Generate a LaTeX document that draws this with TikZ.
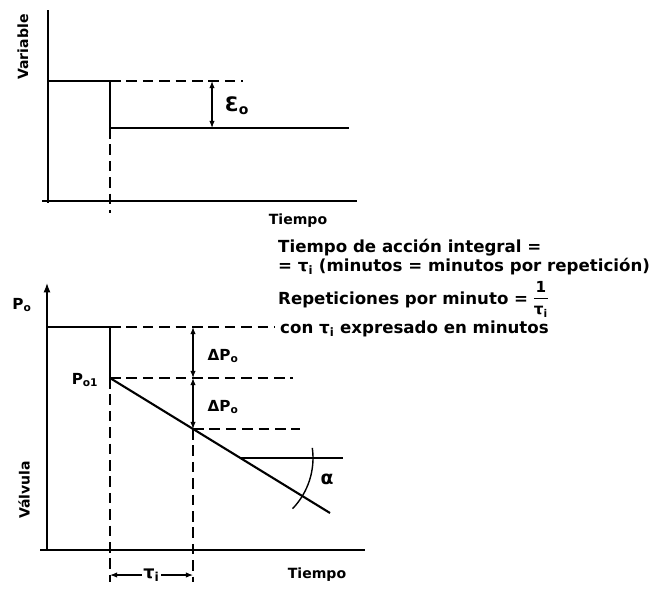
\documentclass[tikz,border=0pt]{standalone}
\usepackage{amsmath}
\usepackage{fontspec}
\setmainfont{DejaVu Sans}
\usetikzlibrary{arrows.meta}
\tikzset{axis/.style = {line width = 1.2pt}}
\tikzset{signal/.style = {line width = 2.4pt}}
\tikzset{guide/.style = {line width = 1pt, dash pattern = on 9pt off 5pt}}
\tikzset{dim/.style = {line width = 0.9pt, {Latex[length=6pt]}-{Latex[length=6pt]}}}
\tikzset{lbl/.style = {inner sep = 1pt, font = \fontsize{12}{14}\selectfont\bfseries}}
\tikzset{txt/.style = {inner sep = 0pt, anchor = base west, font = \fontsize{14.2}{17}\selectfont\bfseries}}
\newcommand{\onetau}{\begin{tabular}{@{}c@{}}\fontsize{13}{13}\selectfont 1\\[-1pt]\hline\noalign{\vskip 2pt}\fontsize{13}{13}\selectfont τ\textsubscript{i}\end{tabular}}

\begin{document}
\begin{tikzpicture}[x = 0.03cm, y = -0.03cm]
				\useasboundingbox (0, 0) rectangle (657, 588);

				% upper graph
				\coordinate (ya) at (48, 10);
				\coordinate (yb) at (48, 203);
				\coordinate (xa) at (42, 201);
				\coordinate (xb) at (357, 201);
				\coordinate (s0) at (48, 81);
				\coordinate (s1) at (110, 81);
				\coordinate (s2) at (110, 128);
				\coordinate (s3) at (349, 128);
				\coordinate (d1) at (243, 81);
				\coordinate (d2) at (110, 213);
				\coordinate (e1) at (212, 81);
				\coordinate (e2) at (212, 128);

				\draw[axis] (ya) -- (yb);
				\draw[axis] (xa) -- (xb);
				\draw[signal] (s0) -- (s1) -- (s2) -- (s3);
				\draw[guide] (s1) -- (d1);
				\draw[guide] (s2) -- (d2);
				\draw[dim] (e1) -- (e2);

				\node[lbl, rotate = 90] (var) at (23, 47) {Variable};
				\node[lbl, font = \fontsize{17}{20}\selectfont\bfseries] (eps) at (237, 106) {Ɛ\textsubscript{o}};
				\node[lbl] (t1) at (298, 221) {Tiempo};

				% text
				\node[txt] (txa) at (278, 252) {Tiempo de acción integral =};
				\node[txt] (txb) at (278, 271) {= τ\textsubscript{i} (minutos = minutos por repetición)};
				\node[txt] (txc) at (278, 304) {Repeticiones por minuto = \onetau};
				\node[txt] (con) at (280, 333) {con τ\textsubscript{i} expresado en minutos};

				% lower graph
				\coordinate (ua) at (47, 550);
				\coordinate (ub) at (47, 283);
				\coordinate (va) at (40, 550);
				\coordinate (vb) at (365, 550);
				\coordinate (p0) at (47, 327);
				\coordinate (p1) at (110, 327);
				\coordinate (p2) at (110, 378);
				\coordinate (p3) at (330, 513);
				\coordinate (r) at (193, 429);
				\coordinate (a1) at (193, 327);
				\coordinate (q1) at (275, 327);
				\coordinate (q2) at (293, 378);
				\coordinate (q3) at (300, 429);
				\coordinate (b1) at (110, 582);
				\coordinate (b2) at (193, 582);
				\coordinate (c1) at (110, 575);
				\coordinate (c2) at (193, 575);
				\coordinate (h1) at (240, 458);
				\coordinate (h2) at (343, 458);

				\draw[axis, -{Latex[length=8pt]}] (ua) -- (ub);
				\draw[axis] (va) -- (vb);
				\draw[signal] (p0) -- (p1) -- (p2);
				\draw[line width = 1.8pt] (p2) -- (p3);
				\draw[guide] (p1) -- (q1);
				\draw[guide] (p2) -- (q2);
				\draw[guide] (r) -- (q3);
				\draw[guide] (p2) -- (b1);
				\draw[guide] (r) -- (b2);
				\draw[dim] (a1) -- (p2 -| a1);
				\draw[dim] (p2 -| a1) -- (r);
				\draw[axis] (h1) -- (h2);
				\draw[axis] (h1) ++(8:2.19cm) arc[start angle = 8, end angle = -44, radius = 2.19cm];
				\draw[dim] (c1) -- node[fill = white, lbl, font = \fontsize{15}{17}\selectfont\bfseries] (tau) {τ\textsubscript{i}} (c2);

				\node[lbl, font = \fontsize{13}{15}\selectfont\bfseries] (po) at (22, 305) {P\textsubscript{o}};
				\node[lbl, font = \fontsize{13}{15}\selectfont\bfseries] (po1) at (85, 380) {P\textsubscript{o1}};
				\node[lbl, font = \fontsize{13}{15}\selectfont\bfseries] (dp1) at (223, 356) {ΔP\textsubscript{o}};
				\node[lbl, font = \fontsize{13}{15}\selectfont\bfseries] (dp2) at (223, 407) {ΔP\textsubscript{o}};
				\node[lbl, font = \fontsize{16}{18}\selectfont\bfseries] (alf) at (327, 479) {α};
				\node[lbl, rotate = 90] (val) at (24, 490) {Válvula};
				\node[lbl] (t2) at (317, 575) {Tiempo};
			\end{tikzpicture}
\end{document}
